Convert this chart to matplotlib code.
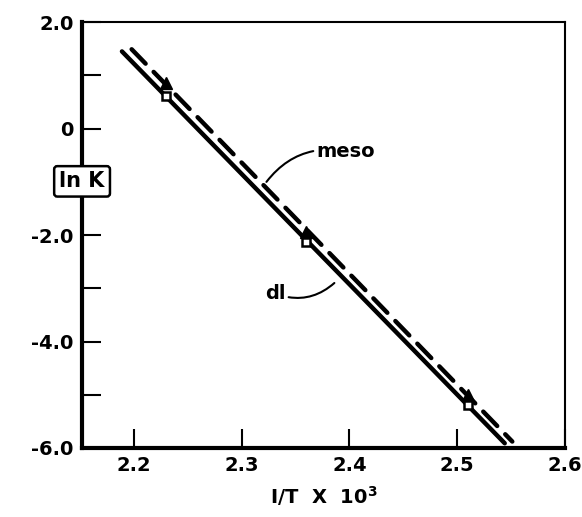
import numpy as np
import matplotlib.pyplot as plt

# readings
x_pts = [2.23, 2.36, 2.51]
meso_lnk = [0.85, -1.94, -5.0]
dl_lnk = [0.62, -2.13, -5.19]
meso_span = [2.198, 2.551]
dl_span = [2.189, 2.544]

xticks = [2.2, 2.3, 2.4, 2.5, 2.6]
xticklabels = ['2.2', '2.3', '2.4', '2.5', '2.6']
yticks = [2, 1, 0, -1, -2, -3, -4, -5, -6]
yticklabels = ['2.0', '', '0', '', '-2.0', '', '-4.0', '', '-6.0']

plt.rcParams['font.family'] = 'DejaVu Sans'
plt.rcParams['font.weight'] = 'bold'

fig = plt.figure(figsize=(5.82, 5.17), dpi=100)
ax = fig.add_axes([0.141, 0.1335, 0.830, 0.8235])

# least squares lines through each set
for pts, span, ls in [(dl_lnk, dl_span, '-'), (meso_lnk, meso_span, (0, (4.5, 2.6)))]:
    k, b = np.polyfit(x_pts, pts, 1)
    xs = np.array(span)
    ax.plot(xs, k * xs + b, color='black', lw=3.2, linestyle=ls, solid_capstyle='round', dash_capstyle='round')

ax.plot(x_pts, meso_lnk, '^', color='black', ms=9, zorder=5)
ax.plot(x_pts, dl_lnk, 's', mfc='white', mec='black', mew=1.8, ms=6, zorder=6)

ax.set_xlim(2.152, 2.6)
ax.set_ylim(-6, 2)
ax.set_xticks(xticks)
ax.set_xticklabels(xticklabels)
ax.set_yticks(yticks)
ax.set_yticklabels(yticklabels)
ax.tick_params(direction='in', length=14, width=1.5, labelsize=14, pad=6)

ax.spines['left'].set_linewidth(3)
ax.spines['bottom'].set_linewidth(3)
ax.spines['top'].set_linewidth(1.5)
ax.spines['right'].set_linewidth(1.5)

ax.set_xlabel('I/T  X  10$^{\\mathbf{3}}$', fontsize=14, fontweight='bold', labelpad=6)

ax.text(0, -0.99, 'ln K', transform=ax.get_yaxis_transform(), ha='center', va='center',
        fontsize=15, fontweight='bold', zorder=10,
        bbox=dict(boxstyle='round,pad=0.25,rounding_size=0.15', fc='white', ec='black', lw=1.8))

ax.annotate('meso', xy=(2.323, -1.0), xytext=(2.369, -0.42), fontsize=14, fontweight='bold',
            ha='left', va='center',
            arrowprops=dict(arrowstyle='-', color='black', lw=1.5, connectionstyle='arc3,rad=0.3',
                            shrinkA=0, shrinkB=0))
ax.annotate('dl', xy=(2.386, -2.9), xytext=(2.322, -3.1), fontsize=14, fontweight='bold',
            ha='left', va='center',
            arrowprops=dict(arrowstyle='-', color='black', lw=1.5, connectionstyle='arc3,rad=0.3',
                            shrinkA=0, shrinkB=0))

fig.savefig('out.png', dpi=100)
